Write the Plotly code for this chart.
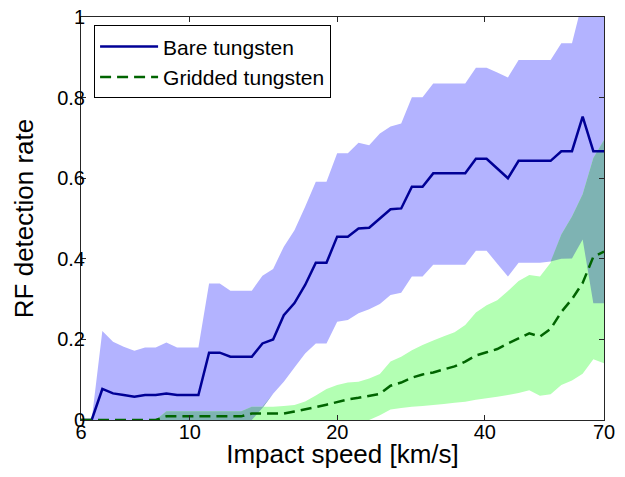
import numpy as np
import plotly.graph_objects as go

# Speed grid: 50 log-spaced impact speeds from 6 to 70 km/s
speed = np.geomspace(6, 70, 50)

bare_rate = [0, 0, 0.077, 0.066, 0.062, 0.058, 0.062, 0.062, 0.066, 0.062,
             0.062, 0.062, 0.167, 0.167, 0.157, 0.157, 0.157, 0.19, 0.2, 0.26,
             0.29, 0.335, 0.39, 0.39, 0.455, 0.455, 0.475, 0.477, 0.5, 0.523,
             0.525, 0.579, 0.579, 0.612, 0.612, 0.612, 0.612, 0.648, 0.648, 0.624,
             0.6, 0.643, 0.643, 0.643, 0.643, 0.667, 0.667, 0.753, 0.667, 0.667]
bare_upper = [0, 0, 0.221, 0.194, 0.182, 0.172, 0.18, 0.18, 0.192, 0.18,
              0.18, 0.18, 0.339, 0.339, 0.321, 0.321, 0.321, 0.358, 0.375, 0.43,
              0.471, 0.529, 0.591, 0.591, 0.662, 0.662, 0.688, 0.682, 0.711, 0.728,
              0.736, 0.801, 0.801, 0.835, 0.835, 0.835, 0.835, 0.874, 0.874, 0.862,
              0.85, 0.893, 0.893, 0.893, 0.893, 0.935, 0.935, 1.04, 1.05, 1.05]
bare_lower = [0, 0, 0, 0, 0, 0, 0, 0, 0, 0,
              0, 0, 0, 0, 0, 0, 0, 0.03, 0.065, 0.095,
              0.13, 0.165, 0.19, 0.19, 0.244, 0.248, 0.265, 0.275, 0.288, 0.31,
              0.316, 0.356, 0.356, 0.385, 0.385, 0.385, 0.385, 0.42, 0.42, 0.388,
              0.356, 0.39, 0.39, 0.39, 0.393, 0.4, 0.401, 0.448, 0.29, 0.29]

grid_rate = [0, 0, 0, 0, 0, 0, 0, 0, 0.009, 0.009,
             0.009, 0.009, 0.009, 0.009, 0.009, 0.009, 0.016, 0.016, 0.016, 0.016,
             0.021, 0.026, 0.032, 0.038, 0.045, 0.051, 0.055, 0.06, 0.065, 0.085,
             0.093, 0.105, 0.113, 0.118, 0.125, 0.133, 0.145, 0.16, 0.168, 0.176,
             0.19, 0.202, 0.215, 0.207, 0.226, 0.268, 0.3, 0.34, 0.405, 0.418]
grid_upper = [0, 0, 0, 0, 0, 0, 0, 0, 0.022, 0.022,
              0.022, 0.022, 0.022, 0.022, 0.022, 0.022, 0.033, 0.033, 0.033, 0.035,
              0.037, 0.046, 0.061, 0.077, 0.087, 0.093, 0.095, 0.103, 0.114, 0.145,
              0.157, 0.173, 0.186, 0.197, 0.208, 0.218, 0.236, 0.267, 0.285, 0.297,
              0.32, 0.345, 0.36, 0.356, 0.39, 0.46, 0.505, 0.56, 0.65, 0.695]
grid_lower = [0, 0, 0, 0, 0, 0, 0, 0, 0, 0,
              0, 0, 0, 0, 0, 0, 0, 0, 0, 0,
              0, 0, 0, 0, 0, 0, 0, 0, 0.012, 0.026,
              0.03, 0.033, 0.035, 0.037, 0.04, 0.043, 0.045, 0.05, 0.054, 0.058,
              0.062, 0.067, 0.074, 0.06, 0.064, 0.087, 0.098, 0.115, 0.151, 0.141]

x_ticks = [6, 10, 20, 40, 70]
y_ticks = [0, 0.2, 0.4, 0.6, 0.8, 1]
y_ticktext = ["0", "0.2", "0.4", "0.6", "0.8", "1"]

BLUE_LINE = "rgb(0,0,150)"
GREEN_LINE = "rgb(0,100,0)"
BLUE_FILL = "rgb(179,179,255)"
GREEN_FILL = "rgb(179,255,179)"
OVERLAP_FILL = "rgb(126,179,179)"
FONT = "Liberation Sans, Arial, sans-serif"

xs = list(speed)
xpoly = xs + xs[::-1]

ov_lo = np.maximum(bare_lower, grid_lower)
ov_hi = np.maximum(np.minimum(bare_upper, grid_upper), ov_lo)

fig = go.Figure()
fig.add_trace(go.Scatter(x=xpoly, y=list(bare_upper) + list(bare_lower)[::-1],
                         fill="toself", fillcolor=BLUE_FILL, mode="none",
                         showlegend=False, hoverinfo="skip"))
fig.add_trace(go.Scatter(x=xpoly, y=list(grid_upper) + list(grid_lower)[::-1],
                         fill="toself", fillcolor=GREEN_FILL, mode="none",
                         showlegend=False, hoverinfo="skip"))
fig.add_trace(go.Scatter(x=xpoly, y=list(ov_hi) + list(ov_lo)[::-1],
                         fill="toself", fillcolor=OVERLAP_FILL, mode="none",
                         showlegend=False, hoverinfo="skip"))
fig.add_trace(go.Scatter(x=xs, y=bare_rate, mode="lines", name="Bare tungsten",
                         line=dict(color=BLUE_LINE, width=2.5)))
fig.add_trace(go.Scatter(x=xs, y=grid_rate, mode="lines", name="Gridded tungsten",
                         line=dict(color=GREEN_LINE, width=2.5, dash="11px,6px")))

axis_common = dict(showline=True, linecolor="#262626", linewidth=1, mirror="ticks",
                   ticks="inside", ticklen=5, tickcolor="#262626", showgrid=False,
                   zeroline=False, automargin=False, ticklabeloverflow="allow",
                   tickfont=dict(family=FONT, size=20, color="black"))

fig.update_xaxes(type="log", range=[np.log10(6), np.log10(70)],
                 tickvals=x_ticks, ticktext=[str(v) for v in x_ticks],
                 ticklabelstandoff=-6,
                 title=dict(text="Impact speed [km/s]", font=dict(family=FONT, size=26, color="black"),
                            standoff=10),
                 **axis_common)
fig.update_yaxes(range=[0, 1], tickvals=y_ticks, ticktext=y_ticktext,
                 ticklabelstandoff=-9,
                 title=dict(text="RF detection rate", font=dict(family=FONT, size=26, color="black"),
                            standoff=16),
                 **axis_common)

# The page body adds an 8px margin, so the figure is sized to fit inside the window
fig.update_layout(
    width=609, height=461,
    margin=dict(l=73, r=13, t=9, b=49),
    paper_bgcolor="white", plot_bgcolor="white",
    font=dict(family=FONT, color="black"),
    legend=dict(x=0.025, y=0.979, xanchor="left", yanchor="top",
                bgcolor="white", bordercolor="black", borderwidth=1,
                font=dict(family=FONT, size=21, color="black"),
                itemwidth=58, tracegroupgap=0),
)

fig.write_html("out.html")
